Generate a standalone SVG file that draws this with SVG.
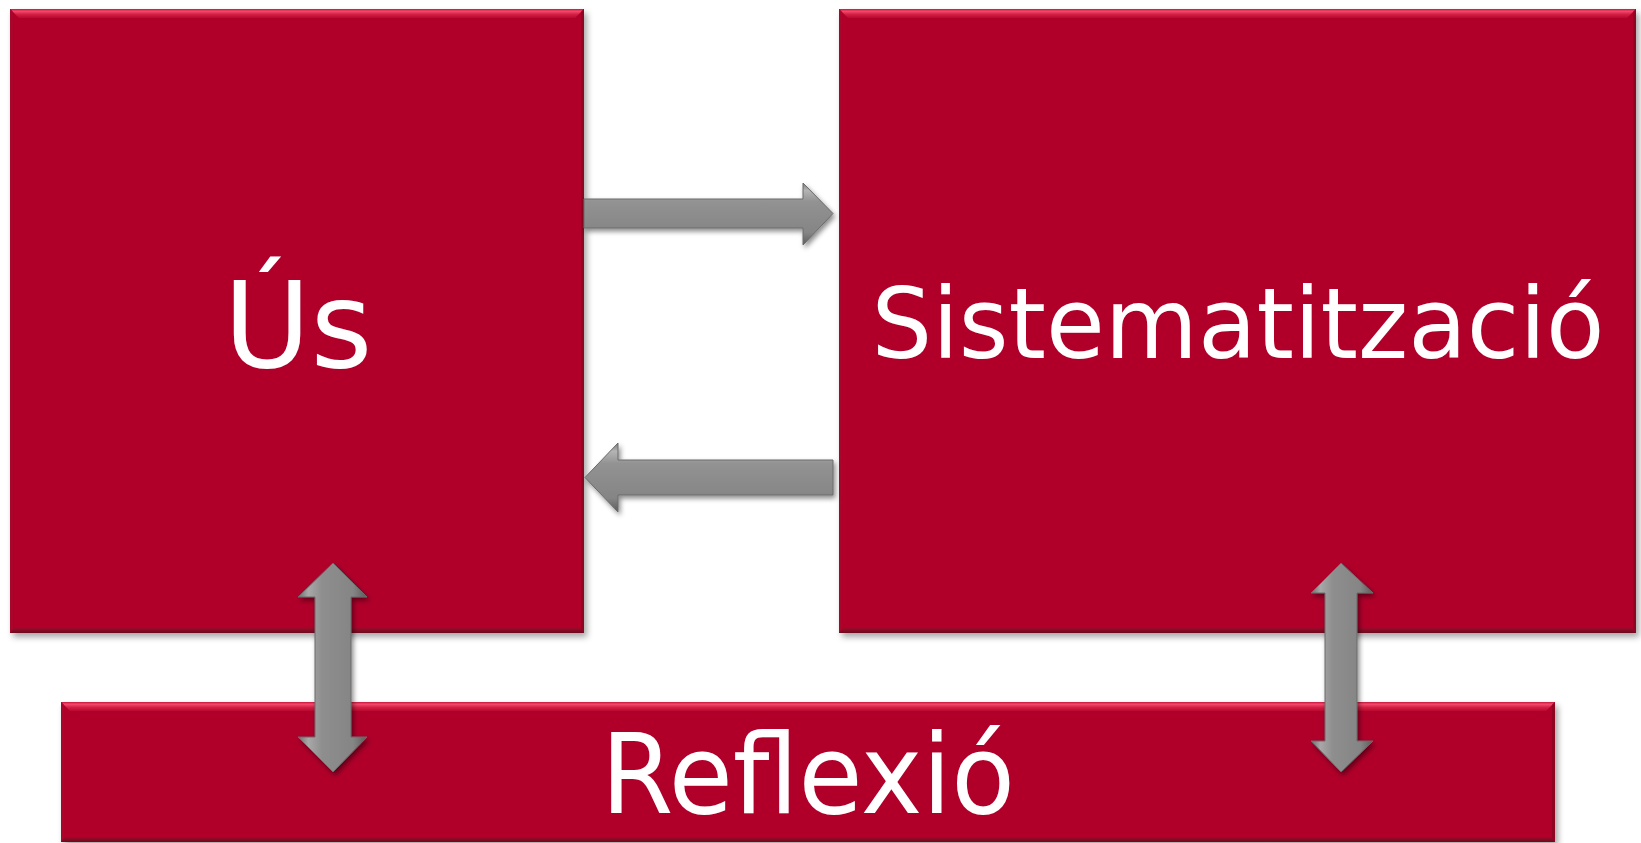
<svg xmlns="http://www.w3.org/2000/svg" width="1641" height="843" viewBox="0 0 1641 843">
<style>
.box{fill:#B00629;}
.bt{fill:url(#gTop);}
.bb{fill:url(#gBot);}
.bl{fill:#A8062A;}
.br{fill:#8E0621;}
.lbl{font-family:"DejaVu Sans","Verdana",sans-serif;fill:#FFFFFF;text-anchor:middle;}
.ah{fill:url(#gArrH);stroke:#6A6A6A;stroke-width:1;}
.av{fill:url(#gArrV);stroke:#6A6A6A;stroke-width:1;}
</style>
<defs>
<filter id="shB" x="-5%" y="-5%" width="112%" height="112%">
<feDropShadow dx="3" dy="4" stdDeviation="3" flood-color="#000" flood-opacity="0.35"/>
</filter>
<filter id="shA" x="-20%" y="-20%" width="140%" height="140%">
<feDropShadow dx="2" dy="3" stdDeviation="2.5" flood-color="#000" flood-opacity="0.45"/>
</filter>
<linearGradient id="gTop" x1="0" y1="0" x2="0" y2="1">
<stop offset="0" stop-color="#C8163C"/>
<stop offset="0.25" stop-color="#F4496C"/>
<stop offset="0.6" stop-color="#D41F45"/>
<stop offset="1" stop-color="#B7092E"/>
</linearGradient>
<linearGradient id="gBot" x1="0" y1="0" x2="0" y2="1">
<stop offset="0" stop-color="#9C0A2A"/>
<stop offset="1" stop-color="#6E0A1E"/>
</linearGradient>
<linearGradient id="gArrH" x1="0" y1="0" x2="0" y2="1">
<stop offset="0" stop-color="#7A7A7A"/>
<stop offset="0.12" stop-color="#B4B4B4"/>
<stop offset="0.3" stop-color="#929292"/>
<stop offset="0.8" stop-color="#858585"/>
<stop offset="1" stop-color="#5C5C5C"/>
</linearGradient>
<linearGradient id="gArrV" x1="0" y1="0" x2="1" y2="0">
<stop offset="0" stop-color="#6E6E6E"/>
<stop offset="0.15" stop-color="#A8A8A8"/>
<stop offset="0.35" stop-color="#8E8E8E"/>
<stop offset="0.8" stop-color="#858585"/>
<stop offset="1" stop-color="#5C5C5C"/>
</linearGradient>
</defs>
<rect x="0" y="0" width="1641" height="843" fill="#FFFFFF"/>

<g id="node-us">
<g filter="url(#shB)"><rect class="box" x="10" y="9" width="574" height="624"/></g>
<polygon class="bt" points="10,9 584,9 575,18 19,18"/>
<polygon class="bl" points="10,9 13,12 13,629 10,633"/>
<polygon class="br" points="584,9 584,633 581,629 581,12"/>
<polygon class="bb" points="10,633 584,633 580,628 14,628"/>
<text class="lbl" x="298" y="367" font-size="119">Ús</text>
</g>

<g id="node-sistematitzacio">
<g filter="url(#shB)"><rect class="box" x="839" y="9" width="797" height="624"/></g>
<polygon class="bt" points="839,9 1636,9 1627,18 848,18"/>
<polygon class="bl" points="839,9 842,12 842,629 839,633"/>
<polygon class="br" points="1636,9 1636,633 1633,629 1633,12"/>
<polygon class="bb" points="839,633 1636,633 1632,628 843,628"/>
<text class="lbl" x="1238" y="358" font-size="98" textLength="733" lengthAdjust="spacingAndGlyphs">Sistematització</text>
</g>

<g id="node-reflexio">
<g filter="url(#shB)"><rect class="box" x="61" y="702" width="1494" height="140"/></g>
<polygon class="bt" points="61,702 1555,702 1546,711 70,711"/>
<polygon class="bl" points="61,702 64,705 64,838 61,842"/>
<polygon class="br" points="1555,702 1555,842 1552,838 1552,705"/>
<polygon class="bb" points="61,842 1555,842 1551,837 65,837"/>
<text class="lbl" x="808" y="813" font-size="110" textLength="414" lengthAdjust="spacingAndGlyphs">Reflexió</text>
</g>

<g id="connectors" filter="url(#shA)">
<path class="ah" d="M584,199 L803,199 L803,183 L833,213.5 L803,245 L803,228 L584,228 Z"/>
<path class="ah" d="M833,460 L618,460 L618,443 L585,477.5 L618,512 L618,495 L833,495 Z"/>
<path class="av" d="M333,563 L367,597 L351,597 L351,737 L367,737 L333,772 L298,737 L315,737 L315,597 L298,597 Z"/>
<path class="av" d="M1341,563 L1373,593 L1357,593 L1357,741 L1373,741 L1341,772 L1311,741 L1325,741 L1325,593 L1311,593 Z"/>
</g>
</svg>
